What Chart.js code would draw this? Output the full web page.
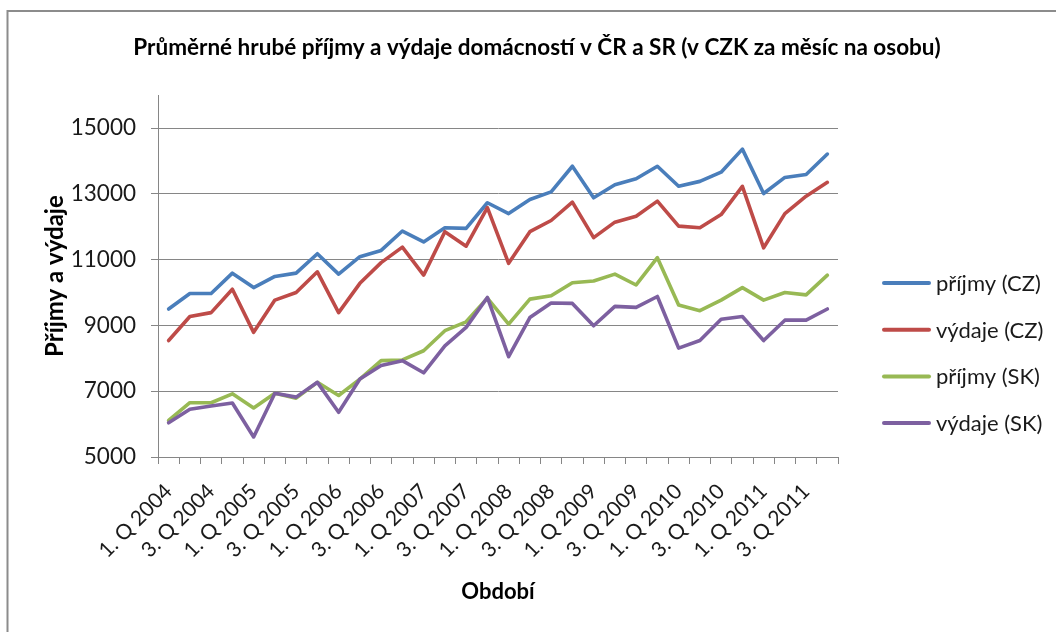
<!DOCTYPE html>
<html>
<head>
<meta charset="utf-8">
<script src="https://cdn.jsdelivr.net/npm/chart.js@4"></script>
<style>
  html, body { margin: 0; padding: 0; background: #fff; }
  #wrap { width: 1056px; height: 632px; }
</style>
</head>
<body>
<div id="wrap"><canvas id="chart" width="1056" height="632"></canvas></div>
<script>
const quarters = [
  "1. Q 2004", "2. Q 2004", "3. Q 2004", "4. Q 2004",
  "1. Q 2005", "2. Q 2005", "3. Q 2005", "4. Q 2005",
  "1. Q 2006", "2. Q 2006", "3. Q 2006", "4. Q 2006",
  "1. Q 2007", "2. Q 2007", "3. Q 2007", "4. Q 2007",
  "1. Q 2008", "2. Q 2008", "3. Q 2008", "4. Q 2008",
  "1. Q 2009", "2. Q 2009", "3. Q 2009", "4. Q 2009",
  "1. Q 2010", "2. Q 2010", "3. Q 2010", "4. Q 2010",
  "1. Q 2011", "2. Q 2011", "3. Q 2011", "4. Q 2011"
];

const prijmyCZ = [9500, 9970, 9970, 10590, 10150, 10490, 10590, 11180, 10560, 11090, 11280, 11870, 11540, 11970, 11950, 12730,
  12400, 12830, 13060, 13840, 12880, 13280, 13460, 13840, 13230, 13380, 13660, 14360, 13010, 13500, 13590, 14210];
const vydajeCZ = [8540, 9270, 9390, 10100, 8790, 9770, 10000, 10630, 9390, 10280, 10910, 11380, 10530, 11850, 11410, 12580,
  10890, 11850, 12190, 12750, 11670, 12140, 12320, 12780, 12020, 11970, 12370, 13230, 11360, 12400, 12930, 13350];
const prijmySK = [6110, 6650, 6650, 6920, 6490, 6940, 6790, 7270, 6870, 7370, 7930, 7950, 8230, 8840, 9110, 9830,
  9040, 9800, 9900, 10300, 10350, 10560, 10230, 11060, 9620, 9450, 9770, 10150, 9770, 10000, 9930, 10530];
const vydajeSK = [6040, 6450, 6550, 6640, 5610, 6940, 6820, 7270, 6360, 7370, 7780, 7930, 7560, 8380, 8940, 9850,
  8050, 9240, 9680, 9670, 8990, 9580, 9550, 9880, 8310, 8540, 9190, 9270, 8540, 9160, 9160, 9500];

const seriesNames = ["příjmy (CZ)", "výdaje (CZ)", "příjmy (SK)", "výdaje (SK)"];
const yTicks = [5000, 7000, 9000, 11000, 13000, 15000];
const chartTitle = "Průměrné hrubé příjmy a výdaje domácností v ČR a SR (v CZK za měsíc na osobu)";

const colors = ["#4a7ebb", "#be4b48", "#98b954", "#7d60a0"];
const axisGrey = "#868686";
const fontFamily = "Lato, 'Open Sans', sans-serif";

Chart.defaults.font.family = fontFamily;
Chart.defaults.color = "#1a1a1a";

// frame of the chart (only top and left edges are visible in the picture)
const framePlugin = {
  id: "frame",
  beforeDraw(chart) {
    const ctx = chart.ctx;
    ctx.save();
    ctx.fillStyle = "#fff";
    ctx.fillRect(0, 0, chart.width, chart.height);
    ctx.strokeStyle = "#8c8c8c";
    ctx.lineWidth = 2;
    ctx.beginPath();
    ctx.moveTo(7.5, chart.height);
    ctx.lineTo(7.5, 11);
    ctx.lineTo(chart.width, 11);
    ctx.stroke();
    ctx.restore();
  },
};

// title centred on the whole frame, legend on the right like excel
const sideLegend = {
  id: "sideLegend",
  afterDraw(chart) {
    const ctx = chart.ctx;
    ctx.save();
    ctx.fillStyle = "#000";
    ctx.font = "bold 22.5px " + fontFamily;
    ctx.textAlign = "center";
    ctx.textBaseline = "middle";
    ctx.fillText(chartTitle, 537, 48);

    ctx.font = "22px " + fontFamily;
    ctx.textAlign = "left";
    chart.data.datasets.forEach((ds, i) => {
      const y = 283 + i * 46.7;
      ctx.strokeStyle = ds.borderColor;
      ctx.lineWidth = 4;
      ctx.lineCap = "round";
      ctx.beginPath();
      ctx.moveTo(884, y);
      ctx.lineTo(929, y);
      ctx.stroke();
      ctx.fillStyle = "#1a1a1a";
      ctx.fillText(ds.label, 936, y + 1);
    });
    ctx.restore();
  },
};

const allSeries = [prijmyCZ, vydajeCZ, prijmySK, vydajeSK];

new Chart(document.getElementById("chart"), {
  type: "line",
  data: {
    labels: quarters,
    datasets: allSeries.map((values, i) => ({
      label: seriesNames[i],
      data: values,
      borderColor: colors[i],
      backgroundColor: colors[i],
      borderWidth: 3.6,
      pointRadius: 0,
      tension: 0,
      borderJoinStyle: "round",
      borderCapStyle: "round",
      order: 4 - i,
    })),
  },
  options: {
    responsive: false,
    animation: false,
    layout: {
      padding: { left: 0, top: 0, right: 218, bottom: 0 },
    },
    plugins: {
      legend: { display: false },
      tooltip: { enabled: false },
      title: {
        // only reserves the space, the visible title is drawn by the plugin
        display: true,
        text: " ",
        font: { size: 21, weight: "bold" },
        padding: { top: 36, bottom: 34 },
      },
    },
    scales: {
      x: {
        offset: true,
        grid: {
          display: true,
          offset: true,
          drawOnChartArea: false,
          drawTicks: true,
          tickLength: 7,
          color: axisGrey,
        },
        border: { color: axisGrey, width: 1 },
        ticks: {
          autoSkip: false,
          maxRotation: 45,
          minRotation: 45,
          padding: 15,
          color: "#1a1a1a",
          font: { size: 21 },
          callback: function (value, index) {
            return index % 2 === 0 ? quarters[index] : "";
          },
        },
        title: {
          display: true,
          text: "Období",
          color: "#000",
          font: { size: 22, weight: "bold" },
          padding: { top: 0, bottom: 27 },
        },
        afterFit(scale) {
          scale.height = 175;
        },
      },
      y: {
        min: 5000,
        max: 16000,
        afterBuildTicks(scale) {
          scale.ticks = yTicks.map((v) => ({ value: v }));
        },
        grid: {
          color: axisGrey,
          lineWidth: 1,
          drawTicks: true,
          tickLength: 7,
        },
        border: { color: axisGrey, width: 1 },
        ticks: {
          padding: 15,
          color: "#1a1a1a",
          font: { size: 22.5 },
          callback: (value) => String(value),
        },
        title: {
          display: true,
          text: "Příjmy a výdaje",
          color: "#000",
          font: { size: 24, weight: "bold" },
          padding: { top: 41, bottom: 0 },
        },
        afterFit(scale) {
          scale.width = 158;
        },
      },
    },
  },
  plugins: [framePlugin, sideLegend],
});
</script>
</body>
</html>
